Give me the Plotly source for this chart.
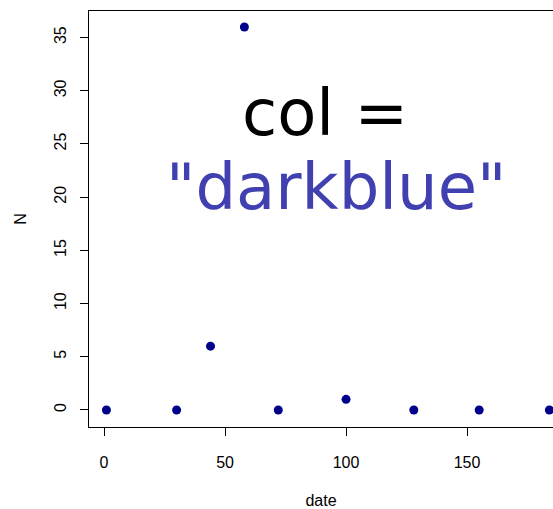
import plotly.graph_objects as go

# sampling dates and counts
dates = [1, 30, 44, 58, 72, 100, 128, 155, 184]
counts = [0, 0, 6, 36, 0, 1, 0, 0, 0]

x_ticks = [0, 50, 100, 150]
y_ticks = [0, 5, 10, 15, 20, 25, 30, 35]

fig = go.Figure()
fig.add_trace(go.Scatter(
    x=dates, y=counts, mode="markers",
    marker=dict(color="#00008B", size=9),
    cliponaxis=False, showlegend=False,
))

axis_font = dict(family="Liberation Sans, Arial, sans-serif", size=16, color="#000")

fig.update_layout(
    width=553, height=509,
    margin=dict(l=89, r=0, t=11, b=82),
    paper_bgcolor="white", plot_bgcolor="white",
    font=axis_font,
    xaxis=dict(
        range=[-6.2, 185.5], tickvals=x_ticks, ticks="outside", ticklen=8,
        tickcolor="#000", showline=True, linecolor="#000", linewidth=1,
        mirror=True, showgrid=False, zeroline=False, ticklabelstandoff=13,
        automargin=False,
        title=dict(text="date", standoff=25, font=axis_font),
    ),
    yaxis=dict(
        range=[-1.6, 37.5], tickvals=y_ticks, ticks="outside", ticklen=8,
        tickcolor="#000", showline=True, linecolor="#000", linewidth=1,
        mirror=False, showgrid=False, zeroline=False, tickangle=-90,
        ticklabelstandoff=8, automargin=False,
        title=dict(text="N", standoff=20, font=axis_font),
    ),
)

big = "DejaVu Sans, sans-serif"
fig.add_annotation(xref="paper", yref="paper", x=0.509, y=0.755,
                   text="col =", showarrow=False, xanchor="center", yanchor="middle",
                   font=dict(family=big, size=64, color="#000"))
fig.add_annotation(xref="paper", yref="paper", x=0.532, y=0.577,
                   text="\"darkblue\"", showarrow=False, xanchor="center", yanchor="middle",
                   font=dict(family=big, size=64, color="#4040B0"))

# drop the default page margin so the figure sits at the window corner
fig.write_html(
    "out.html",
    config={"responsive": False, "displayModeBar": False},
    post_script="document.body.style.margin='0'; document.body.style.overflow='hidden';",
)
